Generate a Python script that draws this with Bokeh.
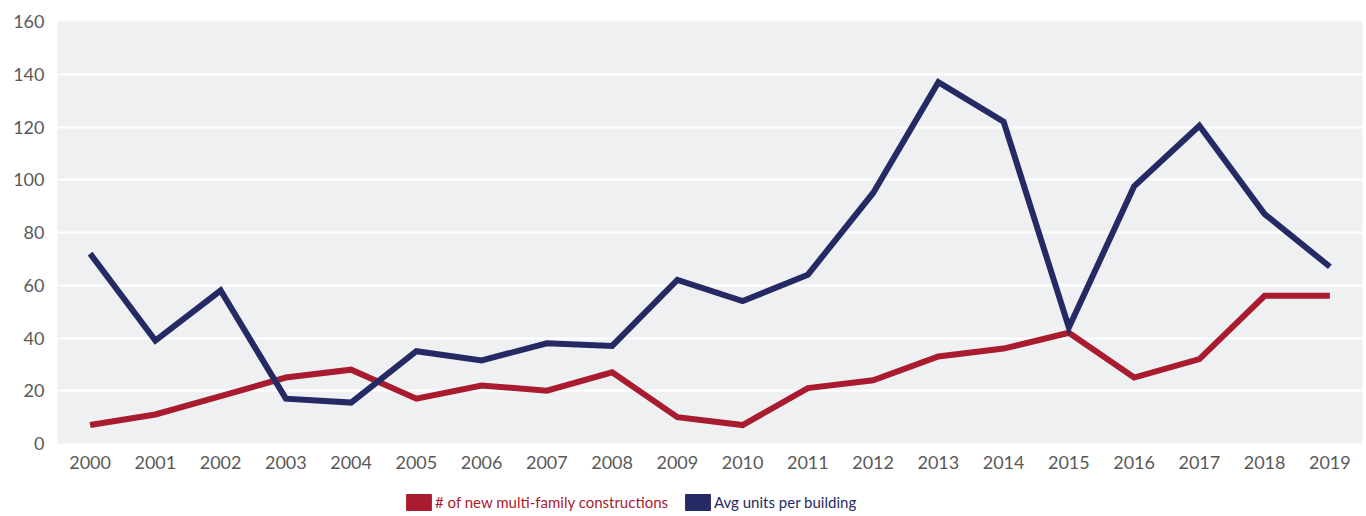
from bokeh.plotting import figure
from bokeh.layouts import column
from bokeh.models import Legend, LegendItem, FixedTicker, ColumnDataSource
from bokeh.embed import file_html
from bokeh.resources import INLINE

years = [str(y) for y in range(2000, 2020)]
new_constructions = [7, 11, 18, 25, 28, 17, 22, 20, 27, 10, 7, 21, 24, 33, 36, 42, 25, 32, 56, 56]
avg_units = [72, 39, 58, 17, 15.5, 35, 31.5, 38, 37, 62, 54, 64, 95, 137, 122, 44, 97.5, 120.5, 87, 67]
y_ticks = [0, 20, 40, 60, 80, 100, 120, 140, 160]
labels = ["# of new multi-family constructions", "Avg units per building"]

RED = "#A91B2E"
BLUE = "#252A64"
FONT = "Lato"
W = 1366

p = figure(x_range=years, y_range=(0, 160), width=W, height=478,
           output_backend="svg", toolbar_location=None,
           min_border_left=57, min_border_right=4, min_border_top=21, min_border_bottom=35)
p.background_fill_color = "#EFF0F2"
p.border_fill_color = "white"
p.outline_line_color = None
p.xgrid.grid_line_color = None
p.ygrid.grid_line_color = "white"
p.ygrid.grid_line_width = 2
p.yaxis.ticker = FixedTicker(ticks=y_ticks)

for ax in (p.xaxis, p.yaxis):
    ax.axis_line_color = None
    ax.major_tick_line_color = None
    ax.minor_tick_line_color = None
    ax.major_tick_out = 0
    ax.major_tick_in = 0
    ax.major_label_text_font = FONT
    ax.major_label_text_font_size = "18px"
    ax.major_label_text_color = "#595959"
p.yaxis.major_label_standoff = 13
p.xaxis.major_label_standoff = 12
p.x_range.range_padding = 0

src = ColumnDataSource(dict(year=years, new=new_constructions, avg=avg_units))
p.line("year", "new", source=src, line_color=RED, line_width=6, line_join="miter")
p.line("year", "avg", source=src, line_color=BLUE, line_width=6, line_join="miter")

# legend strip
lf = figure(width=W, height=38, x_range=(0, 1), y_range=(0, 1),
            output_backend="svg", toolbar_location=None,
            x_axis_location=None, y_axis_location=None,
            min_border_left=0, min_border_right=0, min_border_top=0, min_border_bottom=0)
lf.outline_line_color = None
lf.grid.grid_line_color = None
lf.background_fill_color = "white"
lf.border_fill_color = "white"

# swatch renderers sit outside the visible range; they only feed the legend
r_red = lf.quad(left=[5], right=[6], top=[5], bottom=[6], fill_color=RED, line_color=RED)
r_blue = lf.quad(left=[5], right=[6], top=[5], bottom=[6], fill_color=BLUE, line_color=BLUE)

def make_legend(label, rend, color, loc):
    lg = Legend(items=[LegendItem(label=label, renderers=[rend])], location=loc,
                border_line_color=None, background_fill_alpha=0,
                glyph_width=31, glyph_height=20, label_standoff=1,
                padding=0, margin=0, spacing=0,
                label_text_font=FONT, label_text_font_size="15px",
                label_text_color=color, label_height=20)
    lf.add_layout(lg, "center")

make_legend(labels[0], r_red, RED, (346, 4))
make_legend(labels[1], r_blue, BLUE, (625, 4))

layout = column(p, lf, spacing=0)
open("out.html", "w").write(file_html(layout, INLINE))
